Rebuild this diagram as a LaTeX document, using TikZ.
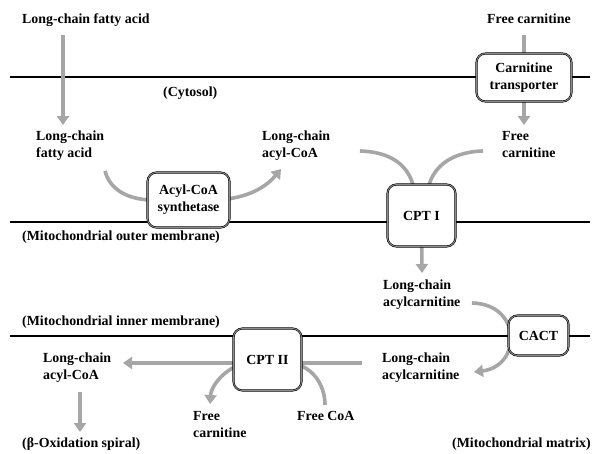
\documentclass[tikz,border=0pt]{standalone}
\usepackage{fontspec}
\setmainfont{Liberation Serif}
\usetikzlibrary{arrows.meta}
\definecolor{arrgray}{RGB}{166,166,166}
\definecolor{midgray}{RGB}{140,140,140}
\tikzset{
  lbl/.style={font=\fontsize{13.9}{17}\selectfont\bfseries, inner sep=0pt, anchor=north west, align=left},
  enzyme/.style={draw=black, line width=0.6pt, double=midgray, double distance=0.9pt, rounded corners=9pt, fill=white, font=\fontsize{13.9}{17}\selectfont\bfseries, align=center, inner sep=0pt},
  membrane/.style={line width=2.4pt, black},
  flow/.style={line width=3.6pt, arrgray, -{Triangle[width=12pt,length=9pt]}},
  feed/.style={line width=3.6pt, arrgray}
}
\begin{document}
\begin{tikzpicture}[x=1pt,y=-1pt]
\useasboundingbox[fill=white] (0,0) rectangle (600,453);

% membranes
\coordinate (m1a) at (10,77);  \coordinate (m1b) at (590,77);
\coordinate (m2a) at (10,222); \coordinate (m2b) at (590,222);
\coordinate (m3a) at (10,336); \coordinate (m3b) at (590,336);
\draw[membrane] (m1a) -- (m1b);
\draw[membrane] (m2a) -- (m2b);
\draw[membrane] (m3a) -- (m3b);

% labels
\node[lbl] (lcfa0) at (22,14) {Long-chain fatty acid};
\node[lbl] (fc0) at (487,14) {Free carnitine};
\node[lbl] (cyto) at (163,87) {(Cytosol)};
\node[lbl] (lcfa1) at (36,131) {Long-chain\\fatty acid};
\node[lbl] (lcacoa1) at (262,131) {Long-chain\\acyl-CoA};
\node[lbl] (fc1) at (502,131) {Free\\carnitine};
\node[lbl] (outer) at (22,231) {(Mitochondrial outer membrane)};
\node[lbl] (lcac1) at (383,280) {Long-chain\\acylcarnitine};
\node[lbl] (inner) at (22,316) {(Mitochondrial inner membrane)};
\node[lbl] (lcac2) at (382,353) {Long-chain\\acylcarnitine};
\node[lbl] (lcacoa2) at (43,353) {Long-chain\\acyl-CoA};
\node[lbl] (fc2) at (193,411) {Free\\carnitine};
\node[lbl] (fcoa) at (297,411) {Free CoA};
\node[lbl] (beta) at (22,438) {(β-Oxidation spiral)};
\node[lbl] (matrix) at (452,438) {(Mitochondrial matrix)};

% free ends
\coordinate (a1s) at (63,35);   \coordinate (a1e) at (63,125);
\coordinate (a2s) at (524,35);  \coordinate (a3e) at (524,125);
\coordinate (c1s) at (105,171); \coordinate (c2e) at (281,169);
\coordinate (c3s) at (360,151); \coordinate (c4s) at (483,151);
\coordinate (a4e) at (422,273);
\coordinate (c5s) at (472,303); \coordinate (c5e) at (474,372);
\coordinate (a5s) at (362,363); \coordinate (a5e) at (123,363);
\coordinate (c6e) at (210,404); \coordinate (c7s) at (325,405);
\coordinate (a6s) at (80,392);  \coordinate (a6e) at (80,432);

% enzyme positions (for connectors drawn beneath boxes)
\coordinate (acsC) at (188.5,200);
\coordinate (cpt1C) at (421.5,215.5);
\coordinate (ctC) at (524,77.5);
\coordinate (cactC) at (538.5,335.5);
\coordinate (cpt2C) at (267.5,359.5);

% connectors (drawn under boxes)
\draw[flow] (a1s) -- (a1e);
\draw[feed] (a2s) -- (ctC);
\draw[flow] (ctC) -- (a3e);
\draw[feed] (c1s) .. controls (110,190) and (128,199) .. (150,200);
\draw[flow] (227,199) .. controls (250,196) and (266,187) .. (c2e);
\draw[feed] (c3s) .. controls (396,152) and (411,170) .. (414,190);
\draw[feed] (c4s) .. controls (448,152) and (431,170) .. (428,190);
\draw[flow] (cpt1C) -- (a4e);
\draw[flow] (c5s) .. controls (522,304) and (522,366) .. (c5e);
\draw[flow] (a5s) -- (a5e);
\draw[flow] (236,366) .. controls (219,375) and (211,388) .. (c6e);
\draw[feed] (299,365) .. controls (316,371) and (325,388) .. (c7s);
\draw[flow] (a6s) -- (a6e);

% enzymes
\node[enzyme, minimum width=95pt, minimum height=48pt] (ct) at (ctC) {Carnitine\\transporter};
\node[enzyme, minimum width=82pt, minimum height=55pt] (acs) at (acsC) {Acyl-CoA\\synthetase};
\node[enzyme, minimum width=68pt, minimum height=62pt] (cpt1) at (cpt1C) {CPT I};
\node[enzyme, minimum width=60pt, minimum height=40pt] (cact) at (cactC) {CACT};
\node[enzyme, minimum width=68pt, minimum height=62pt] (cpt2) at (cpt2C) {CPT II};
\end{tikzpicture}
\end{document}
